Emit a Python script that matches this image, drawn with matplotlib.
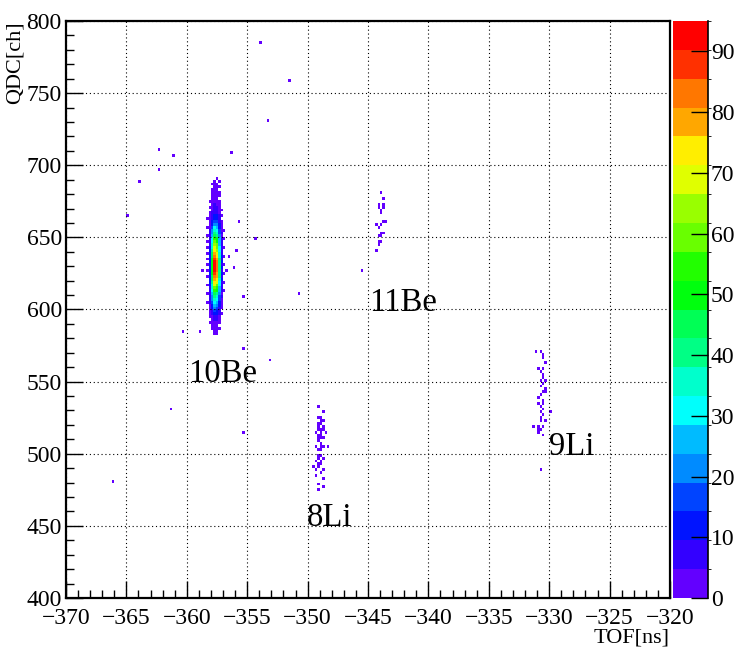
import colorsys
import numpy as np
import matplotlib
matplotlib.use("Agg")
import matplotlib.pyplot as plt
from matplotlib.colors import ListedColormap, BoundaryNorm

plt.rcParams['font.family'] = ['Liberation Serif', 'DejaVu Serif']

# histogram binning (TOF in ns, QDC in channels)
X_LO, X_HI, NX = -370.0, -320.0, 250
Y_LO, Y_HI, NY = 400.0, 800.0, 200

# 10Be core: counts per bin, columns are TOF bin centres, rows are QDC bin centres (top -> bottom)
be10_tof = [-358.3, -358.1, -357.9, -357.7, -357.5, -357.3, -357.1, -356.9]
be10_qdc = list(range(691, 582, -2))
be10_counts = [
    [0, 0, 0, 0, 1, 0, 0, 0],
    [0, 0, 0, 1, 0, 1, 0, 0],
    [0, 0, 1, 2, 1, 0, 0, 0],
    [0, 0, 0, 2, 2, 1, 0, 0],
    [0, 0, 1, 2, 1, 0, 0, 0],
    [0, 0, 2, 3, 2, 1, 0, 0],
    [0, 0, 1, 3, 3, 1, 0, 0],
    [0, 0, 2, 4, 3, 0, 0, 0],
    [0, 1, 2, 4, 4, 2, 0, 0],
    [0, 0, 3, 5, 4, 2, 0, 0],
    [0, 1, 3, 6, 5, 3, 0, 0],
    [0, 0, 4, 7, 6, 3, 1, 0],
    [0, 1, 5, 9, 8, 4, 0, 0],
    [0, 2, 6, 11, 10, 5, 1, 0],
    [1, 2, 8, 14, 12, 6, 0, 0],
    [0, 3, 10, 18, 16, 8, 2, 0],
    [0, 3, 13, 23, 20, 10, 1, 0],
    [1, 4, 16, 29, 26, 13, 3, 0],
    [0, 5, 19, 35, 31, 16, 2, 1],
    [0, 6, 23, 41, 37, 18, 5, 0],
    [1, 7, 26, 47, 42, 21, 4, 0],
    [0, 8, 29, 53, 48, 24, 6, 1],
    [1, 9, 32, 58, 52, 26, 5, 0],
    [0, 9, 35, 63, 57, 28, 8, 0],
    [2, 10, 37, 68, 61, 31, 6, 1],
    [0, 11, 40, 73, 66, 33, 9, 0],
    [1, 12, 43, 78, 70, 35, 7, 0],
    [0, 12, 46, 83, 75, 37, 10, 1],
    [1, 13, 48, 87, 78, 39, 8, 0],
    [0, 14, 50, 91, 82, 41, 11, 0],
    [2, 14, 51, 93, 84, 42, 9, 1],
    [0, 14, 52, 95, 85, 42, 11, 0],
    [1, 14, 51, 92, 83, 41, 8, 0],
    [0, 13, 49, 89, 80, 40, 11, 1],
    [1, 13, 47, 85, 77, 38, 7, 0],
    [0, 12, 44, 80, 72, 36, 10, 0],
    [0, 11, 41, 74, 67, 33, 6, 1],
    [1, 10, 37, 68, 61, 31, 8, 0],
    [0, 9, 34, 61, 55, 27, 5, 0],
    [0, 8, 30, 54, 49, 24, 6, 1],
    [1, 7, 26, 47, 42, 21, 4, 0],
    [0, 6, 23, 41, 37, 18, 5, 0],
    [0, 5, 19, 35, 32, 16, 2, 0],
    [1, 5, 17, 30, 27, 14, 4, 0],
    [0, 4, 13, 24, 22, 11, 1, 0],
    [0, 3, 10, 19, 17, 9, 2, 0],
    [0, 2, 8, 15, 14, 7, 0, 0],
    [0, 1, 6, 11, 10, 5, 1, 0],
    [0, 1, 4, 8, 7, 3, 0, 0],
    [0, 0, 3, 6, 5, 2, 0, 0],
    [0, 1, 2, 4, 4, 1, 0, 0],
    [0, 0, 2, 3, 3, 0, 0, 0],
    [0, 0, 1, 2, 2, 1, 0, 0],
    [0, 0, 0, 2, 1, 0, 0, 0],
    [0, 0, 0, 1, 1, 0, 0, 0],
]

# single events (one count each)
stray_tof = [-354.0, -351.5, -353.4, -356.3, -362.4, -361.2, -362.3, -364.0, -365.0,
             -355.7, -354.3, -355.9, -356.6, -356.1, -356.8, -358.7, -355.3, -360.3,
             -359.0, -357.8, -361.4, -366.1, -355.35, -355.3, -353.1, -350.7, -345.6]
stray_qdc = [785.4, 759.0, 730.0, 708.0, 710.8, 707.0, 696.0, 688.0, 665.0,
             660.0, 648.0, 641.0, 636.0, 629.0, 627.0, 626.0, 608.0, 585.0,
             584.0, 583.0, 531.6, 481.0, 514.6, 572.6, 564.0, 610.7, 626.0]

be11_tof = [-343.97, -343.7, -344.1, -343.7, -343.8, -344.2, -343.9, -344.0, -343.7,
            -343.6, -344.3, -343.9, -344.2, -343.9, -343.7, -344.1, -343.9, -344.1,
            -343.9, -344.1, -344.3]
be11_qdc = [680.6, 676.6, 672.9, 672.7, 671.3, 670.4, 669.5, 666.7, 661.8,
            660.7, 659.8, 659.8, 657.4, 653.5, 652.3, 651.4, 650.0, 647.5,
            647.3, 644.5, 641.5]

li8_tof = [-349.08, -348.78, -349.03, -348.84, -348.97, -348.70, -349.14, -348.84, -349.03,
           -348.75, -349.19, -348.92, -349.08, -348.70, -349.25, -348.97, -348.59, -349.11,
           -348.81, -349.19, -348.92, -348.64, -349.08, -348.81, -349.25, -348.97, -348.70,
           -348.37, -349.14, -348.86, -349.14, -348.86, -349.08, -348.75, -349.25, -348.97,
           -349.14, -348.81, -349.41, -349.03, -348.70, -349.25, -348.86, -349.36, -348.97,
           -348.75, -349.14, -348.78, -349.17]
li8_qdc = [532.6, 529.4, 524.3, 524.3, 522.7, 522.2, 521.1, 521.1, 519.2,
           519.2, 517.6, 517.4, 516.0, 516.0, 514.2, 514.2, 514.2, 512.8,
           512.3, 510.9, 510.5, 510.5, 508.1, 507.7, 505.8, 505.4, 504.9,
           504.4, 502.6, 502.1, 499.8, 498.9, 497.1, 496.6, 495.2, 494.7,
           492.9, 492.4, 491.5, 490.6, 489.6, 488.7, 487.8, 485.5, 486.4,
           482.7, 479.5, 476.5, 474.4]

li9_tof = [-331.04, -330.71, -330.49, -330.60, -330.26, -330.93, -330.60, -330.71, -330.49,
           -330.60, -330.76, -330.38, -330.54, -330.65, -330.38, -330.49, -330.71, -330.26,
           -330.82, -330.60, -330.87, -330.49, -330.71, -329.99, -330.60, -330.76, -330.49,
           -330.65, -330.38, -330.71, -331.31, -330.87, -330.54, -330.93, -330.71, -330.54,
           -330.82, -330.76]
li9_qdc = [571.5, 571.0, 569.6, 567.3, 563.6, 558.9, 558.9, 557.6, 554.8,
           552.9, 551.1, 551.1, 548.8, 546.5, 545.6, 543.7, 541.9, 542.8,
           539.6, 537.7, 535.9, 534.9, 533.6, 528.9, 530.3, 528.0, 527.6,
           525.3, 523.4, 523.0, 518.4, 519.7, 518.4, 516.5, 516.0, 513.2,
           514.2, 488.7]

labels = ["10Be", "11Be", "8Li", "9Li"]
label_tof = [-359.9, -344.9, -350.1, -330.0]
label_qdc = [549.7, 599.0, 449.9, 499.1]

# ---- fill the histogram
x_edges = np.linspace(X_LO, X_HI, NX + 1)
y_edges = np.linspace(Y_LO, Y_HI, NY + 1)

gx, gy = np.meshgrid(be10_tof, be10_qdc)
core, _, _ = np.histogram2d(gx.ravel(), gy.ravel(), bins=[x_edges, y_edges],
                            weights=np.array(be10_counts, dtype=float).ravel())
pts_x = stray_tof + be11_tof + li8_tof + li9_tof
pts_y = stray_qdc + be11_qdc + li8_qdc + li9_qdc
single, _, _ = np.histogram2d(pts_x, pts_y, bins=[x_edges, y_edges])
h = (core + single).T
h = np.ma.masked_less_equal(h, 0)

# ROOT "pretty" palette: 50 HLS colours violet -> red, 20 contour levels
ncol, ndiv = 50, 20
pal50 = [colorsys.hls_to_rgb((280.0 - (i + 1) * 280.0 / ncol) / 360.0, 0.5, 1.0) for i in range(ncol)]
pal = [pal50[int((j + 0.99) * ncol / ndiv)] for j in range(ndiv)]
cmap = ListedColormap(pal)
zmax = h.max()
levels = np.linspace(0, zmax, ndiv + 1)
norm = BoundaryNorm(levels, cmap.N)

fig = plt.figure(figsize=(7.37, 6.5), dpi=100)
ax = fig.add_axes([66 / 737, 52 / 650, 604 / 737, 577 / 650])
mesh = ax.pcolormesh(x_edges, y_edges, h, cmap=cmap, norm=norm)

ax.set_xlim(X_LO, X_HI)
ax.set_ylim(Y_LO, Y_HI)
ax.set_xticks(np.arange(-370, -319, 5))
ax.set_xticks(np.arange(-370, -319, 1), minor=True)
ax.set_yticks(np.arange(400, 801, 50))
ax.set_yticks(np.arange(400, 801, 10), minor=True)
ax.grid(True, which='major', color='black', linestyle=(0, (1, 2.5)), linewidth=0.8)
ax.tick_params(which='major', direction='in', length=12, width=1, labelsize=17,
               top=False, right=False)
ax.tick_params(which='minor', direction='in', length=6, width=1, top=False, right=False)
ax.tick_params(axis='x', pad=7)
ax.tick_params(axis='y', pad=3)
for s in ax.spines.values():
    s.set_linewidth(1.6)

ax.set_xlabel("TOF[ns]", fontsize=16, loc='right', labelpad=0)
ax.set_ylabel("QDC[ch]", fontsize=16, loc='top', labelpad=1)

for name, tx, ty in zip(labels, label_tof, label_qdc):
    ax.text(tx, ty, name, fontsize=23.5, ha='left', va='baseline')

# palette axis
cax = fig.add_axes([673 / 737, 52 / 650, 35 / 737, 577 / 650])
cb = fig.colorbar(mesh, cax=cax, ticks=np.arange(0, 91, 10))
cb.outline.set_visible(False)
cb.ax.axvline(1.0, color='black', lw=1.2, clip_on=False)
cb.ax.tick_params(direction='in', length=12, width=1, labelsize=17, pad=2)

fig.savefig("out.png", dpi=100)
